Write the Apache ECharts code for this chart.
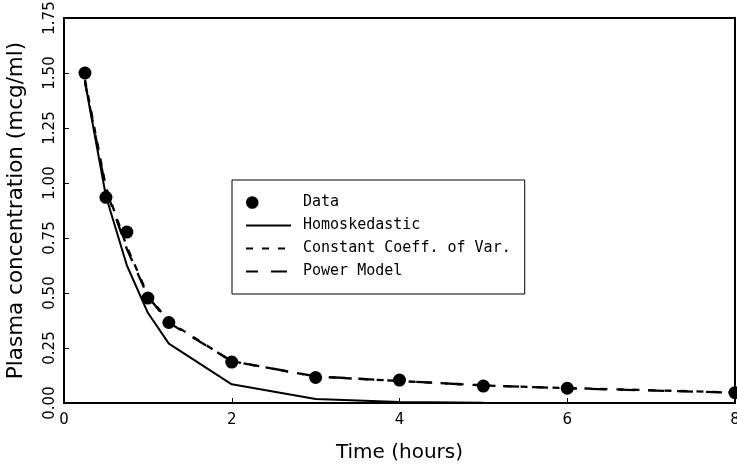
<!DOCTYPE html>
<html>
<head>
<meta charset="utf-8">
<script src="https://cdn.jsdelivr.net/npm/echarts@6/dist/echarts.min.js"></script>
<style>
html,body{margin:0;padding:0;background:#fff;}
#chart{width:737px;height:466px;}
</style>
</head>
<body>
<div id="chart"></div>
<script>
// Time points (hours)
const times = [0.25, 0.5, 0.75, 1, 1.25, 2, 3, 4, 5, 6, 8];
// Observed plasma concentrations (mcg/ml)
const observed = [1.50, 0.935, 0.777, 0.477, 0.366, 0.186, 0.116, 0.104, 0.077, 0.067, 0.047];
// Fitted curves
const homoskedastic = [1.46, 0.94, 0.625, 0.41, 0.27, 0.085, 0.018, 0.005, 0.001, 0, 0];
const constantCV = [1.47, 0.98, 0.71, 0.49, 0.37, 0.19, 0.12, 0.10, 0.08, 0.068, 0.048];
const powerModel = [1.46, 0.97, 0.70, 0.485, 0.365, 0.19, 0.121, 0.10, 0.08, 0.067, 0.047];
const seriesNames = ['Data', 'Homoskedastic', 'Constant Coeff. of Var.', 'Power Model'];
const xTicks = [0, 2, 4, 6, 8];
const yTicks = [0, 0.25, 0.5, 0.75, 1.0, 1.25, 1.5, 1.75];

const pairs = arr => times.map((t, i) => [t, arr[i]]);

const chart = echarts.init(document.getElementById('chart'), null, {renderer: 'canvas'});
const font = 'DejaVu Sans';
const lineLegendItem = name => ({name: name, icon: 'inherit', itemStyle: {opacity: 0, borderWidth: 0}});
chart.setOption({
  animation: false,
  backgroundColor: '#fff',
  grid: {
    left: 64, right: 2, top: 18, bottom: 63,
    containLabel: false, outerBoundsMode: 'none',
    show: true, borderColor: '#000', borderWidth: 2
  },
  xAxis: {
    type: 'value',
    min: xTicks[0], max: xTicks[xTicks.length - 1], interval: 2,
    name: 'Time (hours)', nameLocation: 'middle', nameGap: 40,
    nameTextStyle: {fontFamily: font, fontSize: 20, color: '#000'},
    axisLine: {show: true, onZero: false, lineStyle: {color: '#000', width: 2}},
    axisTick: {show: true, inside: true, length: 5, lineStyle: {color: '#000', width: 1}},
    axisLabel: {fontFamily: font, fontSize: 15, color: '#000', margin: 10},
    splitLine: {show: false}
  },
  yAxis: {
    type: 'value',
    min: yTicks[0], max: yTicks[yTicks.length - 1], interval: 0.25,
    name: 'Plasma concentration (mcg/ml)', nameLocation: 'middle', nameGap: 37,
    nameTextStyle: {fontFamily: font, fontSize: 21.5, color: '#000'},
    axisLine: {show: true, onZero: false, lineStyle: {color: '#000', width: 2}},
    axisTick: {show: true, inside: true, length: 5, lineStyle: {color: '#000', width: 1}},
    axisLabel: {fontFamily: font, fontSize: 15, color: '#000', rotate: 90, margin: 6,
      formatter: v => v.toFixed(2)},
    splitLine: {show: false}
  },
  legend: {
    orient: 'vertical', left: 232, top: 180,
    itemWidth: 45, itemHeight: 14, itemGap: 8,
    padding: [15, 14, 15, 13],
    borderColor: '#000', borderWidth: 1, borderRadius: 0, backgroundColor: '#fff',
    textStyle: {fontFamily: 'DejaVu Sans Mono', fontSize: 15, color: '#000', padding: [0, 0, 0, 7]},
    data: [
      {name: seriesNames[0], icon: 'path://M-0.3,7a6.3,6.3 0 1,0 12.6,0a6.3,6.3 0 1,0 -12.6,0ZM45,0L45,14'},
      lineLegendItem(seriesNames[1]),
      lineLegendItem(seriesNames[2]),
      lineLegendItem(seriesNames[3])
    ]
  },
  series: [
    {
      name: seriesNames[1], type: 'line', data: pairs(homoskedastic),
      symbol: 'none', showSymbol: false, z: 2,
      lineStyle: {color: '#000', width: 2, type: 'solid'}, itemStyle: {color: '#000'}
    },
    {
      name: seriesNames[2], type: 'line', data: pairs(constantCV),
      symbol: 'none', showSymbol: false, z: 3,
      lineStyle: {color: '#000', width: 2.3, type: [7, 9]}, itemStyle: {color: '#000'}
    },
    {
      name: seriesNames[3], type: 'line', data: pairs(powerModel),
      symbol: 'none', showSymbol: false, z: 3,
      lineStyle: {color: '#000', width: 2.3, type: [16, 13], dashOffset: 4}, itemStyle: {color: '#000'}
    },
    {
      name: seriesNames[0], type: 'scatter', data: pairs(observed),
      symbol: 'circle', symbolSize: 13, z: 5,
      itemStyle: {color: '#000', opacity: 1}
    }
  ]
});
</script>
</body>
</html>
